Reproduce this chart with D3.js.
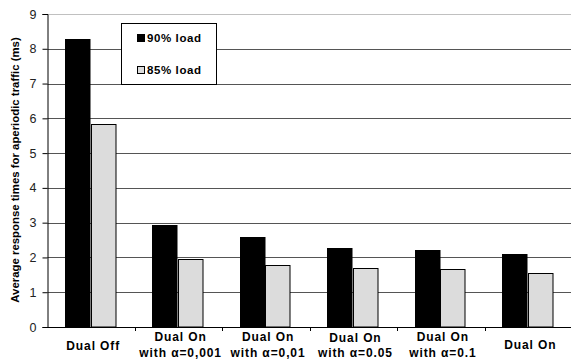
<!DOCTYPE html>
<html><head><meta charset="utf-8">
<script src="https://cdn.jsdelivr.net/npm/d3@7"></script>
<style>body{margin:0;background:#fff}svg{display:block}text{font-family:"Liberation Sans",Arial,sans-serif}</style>
</head><body>
<svg id="c" width="571" height="360"></svg>
<script>
const categories = [["Dual Off"],["Dual On","with α=0,001"],["Dual On","with α=0,01"],["Dual On","with α=0.05"],["Dual On","with α=0.1"],["Dual On"]];
const seriesNames = ["90% load","85% load"];
const load90 = [8.27, 2.93, 2.60, 2.27, 2.21, 2.11];
const load85 = [5.83, 1.96, 1.77, 1.69, 1.66, 1.56];
const yTicks = [0,1,2,3,4,5,6,7,8,9];
const colors = ["#000000","#dcdcdc"];

(function(){
const svg = d3.select("#c");
const pL = 47.5, pR = 572, pT = 14, pB = 327;
const x = d3.scaleBand().domain(d3.range(categories.length)).range([pL, pR]).paddingInner(0).paddingOuter(0);
const y = d3.scaleLinear().domain([0, 9]).range([pB, pT]);
const xs = d3.scaleBand().domain([0,1]).range([0, 51]);

// gridlines
svg.append("g").selectAll("line").data(yTicks.filter(d=>d>0)).join("line")
  .attr("x1", pL).attr("x2", 571).attr("y1", d=>Math.round(y(d))+0.5).attr("y2", d=>Math.round(y(d))+0.5)
  .attr("stroke", d=> d===9 ? "#c0c0c0" : "#555").attr("stroke-width", 1);

// bars
const series = [load90, load85];
const g = svg.append("g");
series.forEach((vals, si) => {
  g.selectAll(".b"+si).data(vals).join("rect")
    .attr("x", (d,i)=> Math.round(x(i) + 17.5 + xs(si)) + 0.5)
    .attr("y", d=> Math.round(y(d)) + 0.5)
    .attr("width", xs.bandwidth() - 1)
    .attr("height", d=> pB - Math.round(y(d)) - 0.5)
    .attr("fill", colors[si]).attr("stroke", "#000").attr("stroke-width", 1);
});

// y axis
const yAxis = d3.axisLeft(y).tickValues(yTicks).tickSize(5).tickPadding(6).tickFormat(d3.format("d"));
const ya = svg.append("g").attr("transform", `translate(${pL},0)`).call(yAxis);
ya.select(".domain").attr("stroke", "#000");
ya.selectAll(".tick line").attr("stroke", "#000");
ya.selectAll(".tick text").attr("font-size", 12.5).attr("fill", "#222").attr("font-family", "Liberation Sans, Arial, sans-serif");

// x axis
const xAxis = d3.axisBottom(x).tickSize(0).tickFormat("");
const xa = svg.append("g").attr("transform", `translate(0,${pB})`).call(xAxis);
xa.select(".domain").attr("d", `M${pL},0.5H571`).attr("stroke", "#000");
xa.selectAll(".tick").remove();
xa.selectAll(".sep").data(d3.range(1, categories.length)).join("line")
  .attr("x1", i=>Math.round(x(i))+0.5).attr("x2", i=>Math.round(x(i))+0.5).attr("y1", 0).attr("y2", 4)
  .attr("stroke", "#000");

// category labels
const labY = [[346],[337,352.5],[337,352.5],[338,353],[337,353],[345]];
categories.forEach((lines, i) => {
  lines.forEach((t, j) => {
    svg.append("text").attr("x", x(i) + x.bandwidth()/2 + 2).attr("y", labY[i][j]).attr("dy", "0.35em")
      .attr("text-anchor", "middle").attr("font-size", 12).attr("font-weight", "bold")
      .attr("letter-spacing", 0.9).attr("fill", "#000").text(t);
  });
});

// y axis title
svg.append("text").attr("transform", `translate(15,170) rotate(-90)`)
  .attr("text-anchor", "middle").attr("dy", "0.35em").attr("font-size", 11.4).attr("font-weight", "bold")
  .attr("fill", "#000").text("Average response times for aperiodic traffic (ms)");

// legend
const lg = svg.append("g");
lg.append("rect").attr("x", 121.5).attr("y", 23.5).attr("width", 95).attr("height", 61)
  .attr("fill", "#fff").attr("stroke", "#000");
const legY = [38, 70];
seriesNames.forEach((n, i) => {
  lg.append("rect").attr("x", 137.5).attr("y", legY[i] - 3.5).attr("width", 7).attr("height", 7)
    .attr("fill", colors[i]).attr("stroke", "#000");
  lg.append("text").attr("x", 147).attr("y", legY[i]).attr("dy", "0.35em").attr("font-size", 11.5)
    .attr("font-weight", "bold").attr("letter-spacing", 0.6).attr("fill", "#000").text(n);
});
})();
</script>
</body></html>
